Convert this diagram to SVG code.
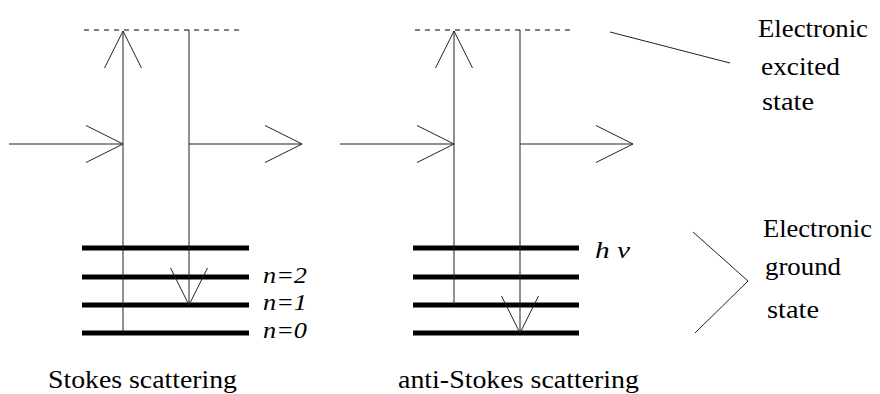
<svg xmlns="http://www.w3.org/2000/svg" width="880" height="394" viewBox="0 0 880 394">
  <style>
    .ln { stroke: #222; stroke-width: 1; fill: none; }
    .dash { stroke: #000; stroke-width: 1.2; stroke-dasharray: 5 5; fill: none; }
    .bar { stroke: #000; stroke-width: 5; }
  </style>
  <defs>
    <marker id="vee" viewBox="-39 -21 42 42" refX="0" refY="0" markerWidth="42" markerHeight="42" markerUnits="userSpaceOnUse" orient="auto">
      <path d="M-37,-18.5 L0,0 L-37,18.5" fill="none" stroke="#222" stroke-width="1"/>
    </marker>
  </defs>
  <rect width="880" height="394" fill="#fff"/>

  <g id="stokes-levels">
    <line class="bar" x1="82" y1="248" x2="249" y2="248"/>
    <line class="bar" x1="82" y1="277" x2="249" y2="277"/>
    <line class="bar" x1="82" y1="305" x2="249" y2="305"/>
    <line class="bar" x1="82" y1="333" x2="249" y2="333"/>
    <line class="dash" x1="84" y1="30" x2="241" y2="30"/>
  </g>

  <g id="antistokes-levels">
    <line class="bar" x1="413" y1="248" x2="579" y2="248"/>
    <line class="bar" x1="413" y1="277" x2="579" y2="277"/>
    <line class="bar" x1="413" y1="305" x2="579" y2="305"/>
    <line class="bar" x1="413" y1="333" x2="579" y2="333"/>
    <line class="dash" x1="415" y1="30" x2="572" y2="30"/>
  </g>

  <g id="connectors">
    <line class="ln" x1="9" y1="144" x2="123" y2="144" marker-end="url(#vee)"/>
    <line class="ln" x1="123" y1="333" x2="123" y2="31" marker-end="url(#vee)"/>
    <line class="ln" x1="189" y1="30" x2="189" y2="305" marker-end="url(#vee)"/>
    <line class="ln" x1="189" y1="144" x2="302" y2="144" marker-end="url(#vee)"/>
    <line class="ln" x1="340" y1="144" x2="454" y2="144" marker-end="url(#vee)"/>
    <line class="ln" x1="454" y1="305" x2="454" y2="31" marker-end="url(#vee)"/>
    <line class="ln" x1="520" y1="30" x2="520" y2="333" marker-end="url(#vee)"/>
    <line class="ln" x1="520" y1="144" x2="633" y2="144" marker-end="url(#vee)"/>
    <line class="ln" x1="610" y1="32" x2="730" y2="63"/>
    <polyline class="ln" points="693,232 748,281 695,333"/>
  </g>

  <g id="level-labels" fill="#000">
    <text font-family="Liberation Serif, DejaVu Serif, serif" font-size="23" font-style="italic" x="263" y="283" textLength="44" lengthAdjust="spacingAndGlyphs">n=2</text>
    <text font-family="Liberation Serif, DejaVu Serif, serif" font-size="23" font-style="italic" x="263" y="310" textLength="44" lengthAdjust="spacingAndGlyphs">n=1</text>
    <text font-family="Liberation Serif, DejaVu Serif, serif" font-size="23" font-style="italic" x="263" y="338" textLength="44" lengthAdjust="spacingAndGlyphs">n=0</text>
    <text font-family="Liberation Serif, DejaVu Serif, serif" font-size="23" font-style="italic" x="595" y="258" textLength="35" lengthAdjust="spacingAndGlyphs">h ν</text>
  </g>

  <g id="excited-label" fill="#000">
    <text font-family="Liberation Serif, DejaVu Serif, serif" font-size="25" x="758" y="37" textLength="110" lengthAdjust="spacingAndGlyphs">Electronic</text>
    <text font-family="Liberation Serif, DejaVu Serif, serif" font-size="25" x="761" y="75" textLength="79" lengthAdjust="spacingAndGlyphs">excited</text>
    <text font-family="Liberation Serif, DejaVu Serif, serif" font-size="25" x="762" y="110" textLength="52" lengthAdjust="spacingAndGlyphs">state</text>
  </g>

  <g id="ground-label" fill="#000">
    <text font-family="Liberation Serif, DejaVu Serif, serif" font-size="25" x="763" y="237" textLength="109" lengthAdjust="spacingAndGlyphs">Electronic</text>
    <text font-family="Liberation Serif, DejaVu Serif, serif" font-size="25" x="765" y="275" textLength="76" lengthAdjust="spacingAndGlyphs">ground</text>
    <text font-family="Liberation Serif, DejaVu Serif, serif" font-size="25" x="767" y="318" textLength="52" lengthAdjust="spacingAndGlyphs">state</text>
  </g>

  <g id="captions" fill="#000">
    <text font-family="Liberation Serif, DejaVu Serif, serif" font-size="25" x="48" y="388" textLength="189" lengthAdjust="spacingAndGlyphs">Stokes scattering</text>
    <text font-family="Liberation Serif, DejaVu Serif, serif" font-size="25" x="398" y="388" textLength="241" lengthAdjust="spacingAndGlyphs">anti-Stokes scattering</text>
  </g>
</svg>
